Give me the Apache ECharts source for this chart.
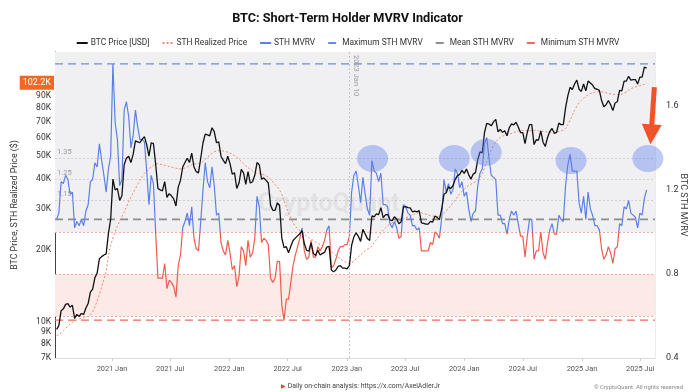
<!DOCTYPE html>
<html><head><meta charset="utf-8">
<script src="https://cdn.jsdelivr.net/npm/echarts@6/dist/echarts.min.js"></script>
<style>html,body{margin:0;padding:0;background:#fff}#c{width:695px;height:392px}</style>
</head><body><div id="c"></div>
<script>
// weekly samples starting 2020-07-13
const startDate = '2020-07-13';
const btcPrice = [
 // 2020
 9250,9600,11100,11300,11800,11900,11500,11700,10300,10700,10500,10800,10700,11400,11900,13300,13700,15300,16000,18400,18800,19100,19300,23500,27000,
 // 2021
 40000,36000,36500,32500,34000,46000,49000,50000,47000,51000,58000,57500,57000,59000,60500,56000,50000,57000,56500,46000,36500,36000,35700,39000,33500,34700,34000,33000,30800,37000,39500,45000,47000,49000,47000,51500,45000,43000,42500,49000,57000,62000,61500,61000,66000,63500,57000,57500,50000,48000,46500,50000,
 // 2022
 46500,42000,42500,36500,38500,44000,42500,38000,43000,38500,39000,41500,47000,46000,40000,40500,39500,38500,31000,29500,29500,31700,31000,22500,20500,20700,19500,20800,22000,22500,23000,23500,24200,21300,20000,19800,21500,19400,19000,20000,19100,19400,19600,20600,20800,16500,16200,16500,17100,17200,16800,16800,
 // 2023
 16700,17200,21000,22800,23700,22900,21800,24500,23500,22400,22000,28000,27700,28500,28300,30300,27500,28200,28400,26900,26700,27700,27100,25900,26400,30500,30600,30300,30200,29100,29300,29100,29400,26100,26000,25800,25800,26500,26300,27900,27500,27000,29900,34500,35000,37000,36500,37500,39900,41400,41900,43600,
 // 2024
 42300,44100,41700,40000,42000,42600,48300,52100,51700,63000,68900,68400,67200,69900,71600,63500,64900,63100,64000,61000,66000,68500,67800,69600,66500,63000,62900,56500,63000,68000,68000,56000,58700,58500,64000,57300,55000,60000,63600,65500,62500,63000,69000,68000,68000,80000,90000,97800,95800,101000,105000,96000,94000,
 // 2025
 101000,94500,104000,102000,100000,96500,96000,95000,86000,81000,82500,86000,82500,78000,84000,85000,95000,94500,104000,104000,109000,105000,105500,105500,101000,108000,108000,119000,118000
];
const sthRealized = [
 8700,8800,8950,9150,9350,9550,9750,9900,10050,10150,10250,10300,10350,10400,10500,10700,11000,11500,12200,13000,14000,15000,16200,19000,21000,
 22500,24000,25300,26600,27800,29000,30500,32000,33500,35000,36500,38000,39500,41000,42300,43300,44200,45000,45800,46300,46500,46300,46000,45800,45500,45200,45000,44800,44500,44300,44200,44300,44600,45000,45500,46000,46300,46500,46600,46800,47500,48500,49500,50500,51500,52200,52600,52800,52800,52600,52300,52000,
 51500,51000,50300,49500,48500,47500,46500,45500,44800,44000,43300,42700,42300,42200,42000,41700,41300,40800,40000,39000,38000,37000,36000,34500,32500,30500,28800,27300,26200,25300,24700,24200,23800,23400,23000,22600,22300,22000,21700,21400,21100,20800,20500,20300,20100,19800,19400,19000,18700,18400,18100,17900,
 17700,17600,17700,18000,18400,18800,19100,19500,19900,20200,20400,20900,21500,22200,22900,23600,24300,24900,25400,25800,26100,26400,26600,26800,26900,27100,27400,27700,28000,28300,28500,28700,28900,28800,28600,28400,28200,28000,27900,27800,27800,27800,28000,28600,29300,30100,30900,31700,32600,33600,34600,35500,
 36300,37000,37600,38100,38500,38900,39600,40800,42300,44500,47500,50500,53000,55500,57500,59000,60000,60800,61300,61700,62000,62500,63000,63500,64000,64200,64300,64200,64000,64000,64200,64500,64300,64000,63900,63700,63500,63300,63200,63200,63300,63400,63600,64000,64500,65500,68000,71000,74500,78000,81500,84000,86000,
 88000,89500,91000,92000,92800,93300,93600,93800,93700,93300,92700,92200,91800,91500,91200,91000,91000,91500,92500,93500,95000,96500,97500,98200,98800,99300,99800,101000,102200
];
const sthMvrv = [
 1.06,1.09,1.24,1.23,1.27,1.25,1.18,1.19,1.02,1.05,1.03,1.06,1.03,1.10,1.13,1.24,1.25,1.33,1.31,1.42,1.34,1.27,1.19,1.30,1.36,
 1.80,1.52,1.44,1.22,1.25,1.58,1.62,1.55,1.40,1.46,1.58,1.50,1.44,1.44,1.43,1.29,1.13,1.27,1.23,0.99,0.78,0.78,0.78,0.85,0.73,0.77,0.76,0.74,0.69,0.84,0.89,1.02,1.05,1.09,1.03,1.12,0.97,0.92,0.91,1.05,1.20,1.33,1.24,1.21,1.31,1.22,1.08,1.09,0.95,0.91,0.89,0.96,
 0.90,0.82,0.84,0.74,0.79,0.93,0.91,0.84,0.96,0.88,0.90,0.97,1.17,1.12,0.95,0.97,0.96,0.94,0.78,0.76,0.78,0.86,0.86,0.65,0.58,0.68,0.68,0.76,0.84,0.89,0.93,0.97,1.02,0.91,0.87,0.88,0.96,0.88,0.88,0.93,0.91,0.93,0.96,1.01,1.03,0.83,0.84,0.87,0.91,0.93,0.93,0.94,
 0.94,0.98,1.19,1.27,1.29,1.22,1.14,1.26,1.18,1.11,1.08,1.34,1.29,1.28,1.24,1.28,1.13,1.13,1.12,1.04,1.02,1.05,1.02,0.97,0.98,1.13,1.12,1.09,1.08,1.03,1.03,1.01,1.02,0.91,0.91,0.91,0.91,0.95,0.94,1.00,0.99,0.97,1.07,1.25,1.19,1.23,1.18,1.20,1.30,1.28,1.21,1.24,
 1.17,1.19,1.11,1.05,1.09,1.10,1.22,1.28,1.30,1.42,1.45,1.35,1.27,1.26,1.25,1.08,1.08,1.04,1.04,0.99,1.06,1.10,1.08,1.10,1.04,0.98,0.98,0.88,0.98,1.06,1.06,0.87,0.91,0.91,1.00,0.90,0.87,0.95,1.01,1.04,0.99,0.99,1.08,1.06,1.05,1.22,1.32,1.37,1.29,1.29,1.29,1.14,1.09,
 1.17,1.06,1.19,1.11,1.08,1.03,1.03,1.01,0.92,0.87,0.89,0.93,0.90,0.85,0.92,0.93,1.04,1.03,1.12,1.11,1.15,1.09,1.08,1.07,1.02,1.09,1.08,1.16,1.20
];
const mvrvMax = 1.80, mvrvMean = 1.06, mvrvMin = 0.58;
const guideLevels = [1.35, 1.25, 1.15];
const zoneLevels = [1.0, 0.8, 0.6];
const lastRealizedLabel = 102200;
const markerDate = '2023-01-10';
const xTickDates = ['2021-01-01','2021-07-01','2022-01-01','2022-07-01','2023-01-01','2023-07-01','2024-01-01','2024-07-01','2025-01-01','2025-07-01'];
const priceTicks = [7000,8000,9000,10000,20000,30000,40000,50000,60000,70000,80000,90000];
const mvrvTicks = [0.4,0.8,1.2,1.6];
const highlightPeaks = [['2023-03-22',1.35],['2023-12-01',1.35],['2024-03-09',1.38],['2024-11-28',1.34],['2025-07-25',1.35]];
const arrowFrom = ['2025-08-14', 1.69], arrowTo = ['2025-08-04', 1.465];

const xMinDate = '2020-07-08', xMaxDate = '2025-08-16';
const yMin = 7000, yMax = 138000, mMin = 0.4, mMax = 1.857;
const DAY = 86400000;
const ts = d => Date.UTC(+d.slice(0, 4), +d.slice(5, 7) - 1, +d.slice(8, 10));
const t0 = ts(startDate);
const dates = btcPrice.map((_, i) => t0 + i * 7 * DAY);
const pair = arr => arr.map((v, i) => [dates[i], v]);
const tickTs = xTickDates.map(ts);
const xMin = ts(xMinDate), xMax = ts(xMaxDate);
const MONTHS = ['Jan','Feb','Mar','Apr','May','Jun','Jul','Aug','Sep','Oct','Nov','Dec'];
const dp = p => [ts(p[0]), p[1]];

const FONT = 'Roboto, "Liberation Sans", sans-serif';
const chart = echarts.init(document.getElementById('c'), null, {renderer: 'canvas'});
const option = {
  animation: false,
  backgroundColor: '#fff',
  textStyle: {fontFamily: FONT},
  title: [
    {text: 'BTC: Short-Term Holder MVRV Indicator', left: 'center', top: 7,
     textStyle: {fontSize: 12.7, fontWeight: 'bold', color: '#111', fontFamily: FONT}},
    {text: '{f|\u25B6} Daily on-chain analysis: https://x.com/AxelAdlerJr', left: 276, top: 378,
     textStyle: {fontSize: 6.9, color: '#444', fontWeight: 'normal', fontFamily: FONT, rich: {f: {color: '#e8412c', fontSize: 6}}}},
    {text: '\u00A9 CryptoQuant. All rights reserved', right: 7, top: 380,
     textStyle: {fontSize: 5.9, color: '#888', fontWeight: 'normal', fontFamily: FONT}}
  ],
  legend: {
    top: 34, left: 'center', itemWidth: 11, itemHeight: 6, itemGap: 12,
    textStyle: {fontSize: 8.4, color: '#333', fontFamily: FONT, padding: [0, 0, 0, -2]},
    itemStyle: {opacity: 0},
    data: ['BTC Price [USD]', 'STH Realized Price', 'STH MVRV', 'Maximum STH MVRV', 'Mean STH MVRV', 'Minimum STH MVRV']
  },
  grid: {left: 55, right: 40, top: 52, bottom: 34, outerBoundsMode: 'none', containLabel: false},
  visualMap: {show: false, type: 'piecewise', seriesIndex: 2, dimension: 1,
    pieces: [{gte: -10, lt: 1, color: '#ee5b4f'}, {gte: 1, lte: 10, color: '#5b7fe6'}]},
  graphic: [
    {type: 'text', left: 258, top: 192, z: 3, silent: true,
     style: {text: 'CryptoQuant', font: 'bold 25px Roboto, sans-serif', fill: 'rgba(110,110,120,0.10)'}},
    {type: 'text', x: 683, y: 205, rotation: -Math.PI / 2, silent: true,
     style: {text: 'BTC STH MVRV', font: '9px Roboto, sans-serif', fill: '#333', align: 'center', verticalAlign: 'middle'}}
  ],
  xAxis: {
    type: 'value', min: xMin, max: xMax,
    axisLine: {lineStyle: {color: '#dcdcdc'}},
    axisTick: {show: true, customValues: tickTs, length: 3, lineStyle: {color: '#d0d0d0'}},
    axisLabel: {customValues: tickTs, fontSize: 7.4, color: '#555', margin: 8,
      formatter: v => { const d = new Date(v); return d.getUTCFullYear() + ' ' + MONTHS[d.getUTCMonth()]; }},
    splitLine: {show: false}
  },
  yAxis: [
    {type: 'log', logBase: 10, min: yMin, max: yMax, position: 'left',
     name: 'BTC Price, STH Realized Price ($)', nameLocation: 'middle', nameGap: 36,
     nameTextStyle: {fontSize: 8.8, color: '#333'},
     axisLine: {show: true, lineStyle: {color: '#444'}}, axisTick: {show: false},
     axisLabel: {customValues: priceTicks, formatter: v => (v / 1000) + 'K', fontSize: 8.5, color: '#333', margin: 4},
     splitLine: {show: false}, minorTick: {show: false}, minorSplitLine: {show: false}},
    {type: 'value', min: mMin, max: mMax, position: 'right',
     axisLine: {show: true, lineStyle: {color: '#ececec'}}, axisTick: {show: false},
     axisLabel: {customValues: mvrvTicks, formatter: v => v.toFixed(1), fontSize: 9, color: '#333', margin: 11},
     splitLine: {show: false}}
  ],
  series: [
    {name: 'BTC Price [USD]', type: 'line', yAxisIndex: 0, data: pair(btcPrice), symbol: 'none', z: 5,
     lineStyle: {color: '#111', width: 1.3}, itemStyle: {color: '#111'},
     markLine: {silent: true, symbol: ['none', 'none'], label: {show: false},
       lineStyle: {color: '#c4c4c4', type: [2, 2], width: 1},
       data: [{xAxis: ts(markerDate)}]}},
    {name: 'STH Realized Price', type: 'line', yAxisIndex: 0, data: pair(sthRealized), symbol: 'none', z: 4,
     lineStyle: {color: '#f0876e', width: 1, type: [2, 2]}, itemStyle: {color: '#f0876e'},
     markLine: {silent: true, symbol: ['none', 'none'],
       lineStyle: {color: 'rgba(0,0,0,0)', width: 0},
       label: {show: true, position: 'start', distance: 1, formatter: '102.2K', color: '#fff',
         backgroundColor: '#f26722', padding: [3, 3, 2, 3], fontSize: 9},
       data: [{yAxis: lastRealizedLabel}]}},
    {name: 'STH MVRV', type: 'line', yAxisIndex: 1, data: pair(sthMvrv), symbol: 'none', z: 4,
     lineStyle: {width: 1.2}, itemStyle: {color: '#5b7fe6'}},
    {name: 'Maximum STH MVRV', type: 'line', yAxisIndex: 1, data: [[xMin, mvrvMax], [xMax, mvrvMax]], symbol: 'none', z: 2,
     lineStyle: {color: '#6d8ae6', width: 1.2, type: [8, 5]}, itemStyle: {color: '#6d8ae6'},
     markArea: {silent: true, z: 1, data: [
       [{yAxis: zoneLevels[0], itemStyle: {color: '#f0f0f3'}}, {yAxis: mMax}],
       [{yAxis: zoneLevels[2], itemStyle: {color: '#fde9e6'}}, {yAxis: zoneLevels[1]}]
     ]},
     markLine: {silent: true, z: 2, symbol: ['none', 'none'], data: [
       ...guideLevels.map(v => ({yAxis: v, lineStyle: {color: '#cfcfcf', type: [2, 2], width: 1},
          label: {show: true, position: 'insideStartTop', formatter: String(v), color: '#9a9a9a', fontSize: 7.5, distance: 2}})),
       ...zoneLevels.map(v => ({yAxis: v, lineStyle: {color: '#f2aaa3', type: [2, 2], width: 1}, label: {show: false}}))
     ]}},
    {name: 'Mean STH MVRV', type: 'line', yAxisIndex: 1, data: [[xMin, mvrvMean], [xMax, mvrvMean]], symbol: 'none', z: 2,
     lineStyle: {color: '#8c8c8c', width: 1.6, type: [8, 5]}, itemStyle: {color: '#8c8c8c'}},
    {name: 'Minimum STH MVRV', type: 'line', yAxisIndex: 1, data: [[xMin, mvrvMin], [xMax, mvrvMin]], symbol: 'none', z: 2,
     lineStyle: {color: '#f06a5a', width: 1.2, type: [8, 5]}, itemStyle: {color: '#f06a5a'}},
    {name: 'peaks', type: 'scatter', yAxisIndex: 1, data: highlightPeaks.map(dp), symbol: 'circle', symbolSize: [31, 27], z: 6,
     itemStyle: {color: 'rgba(95,125,235,0.5)'}, silent: true, clip: false,
     markLine: {silent: true, symbol: ['none', 'triangle'], symbolSize: 20,
       lineStyle: {color: '#f0522a', width: 5, type: 'solid', opacity: 1},
       itemStyle: {color: '#f0522a'}, label: {show: false},
       data: [[{coord: dp(arrowFrom)}, {coord: dp(arrowTo)}]]}},
    {name: 'marker', type: 'scatter', yAxisIndex: 1, data: [[ts(markerDate), 1.843]], symbolSize: 0, z: 6, silent: true,
     label: {show: true, formatter: '2023 Jan 10', rotate: -90, position: 'right', distance: 2,
       align: 'left', verticalAlign: 'bottom', fontSize: 7.5, color: '#8a8a8a'}}
  ]
};
chart.setOption(option);
</script></body></html>
